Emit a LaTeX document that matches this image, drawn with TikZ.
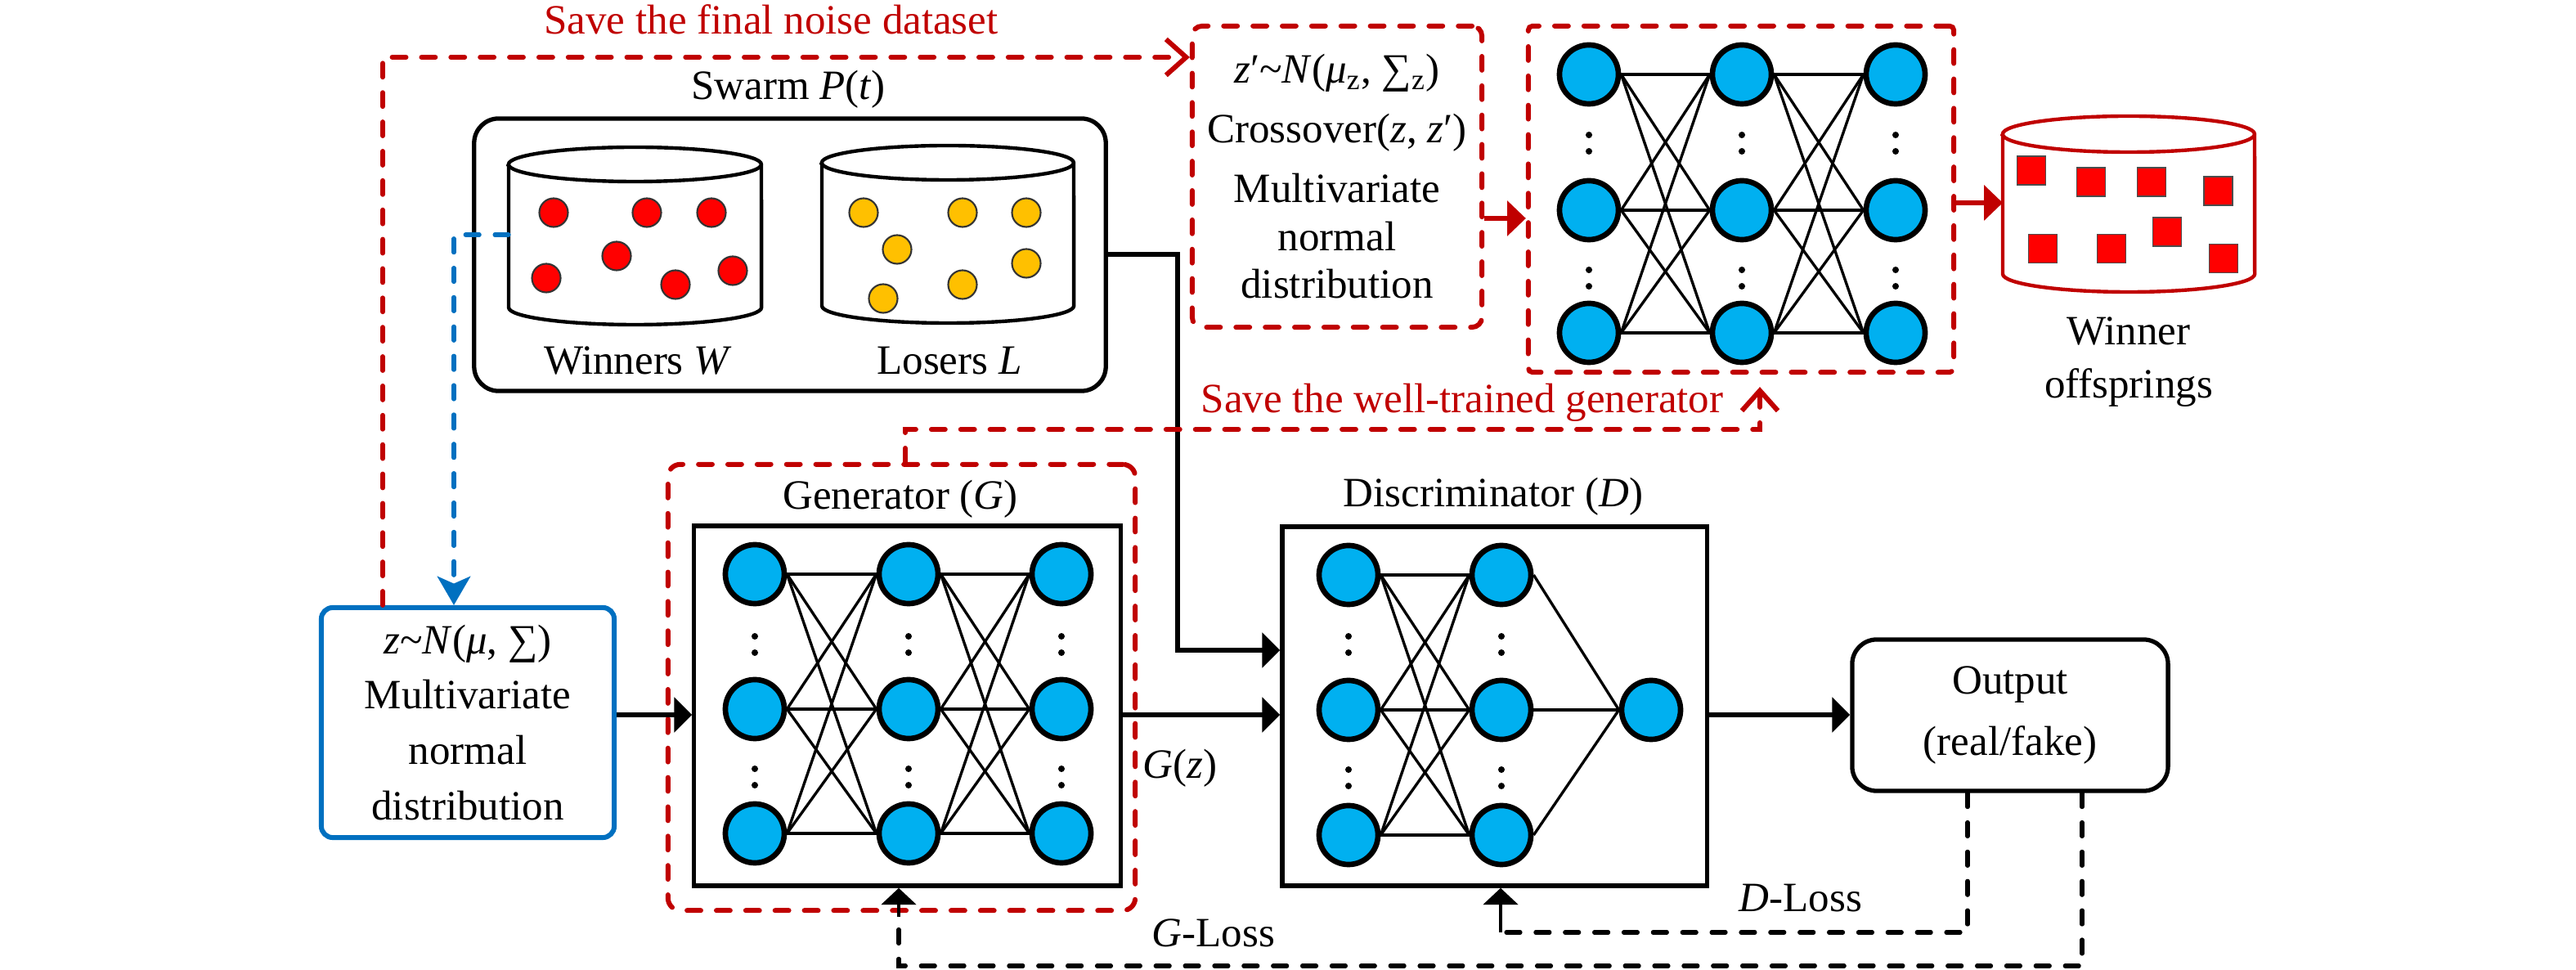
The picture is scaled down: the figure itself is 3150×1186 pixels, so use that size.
\documentclass[tikz,border=0pt]{standalone}
\usepackage{fontspec}
\setmainfont{Liberation Serif}
\usetikzlibrary{arrows.meta,calc}
\definecolor{dred}{RGB}{192,0,0}
\definecolor{bblue}{RGB}{0,112,192}
\definecolor{ncyan}{RGB}{0,176,240}
\definecolor{dotred}{RGB}{255,0,0}
\definecolor{dotyel}{RGB}{255,192,0}
\begin{document}
\begin{tikzpicture}[x=0.01cm,y=-0.01cm,
  every node/.style={font=\fontsize{14.5}{19.3}\selectfont, inner sep=0pt},
  box/.style={draw, line width=1.5pt, align=center},
  neuron/.style={circle, fill=ncyan, draw=black, line width=1.9pt, minimum size=0.72cm, inner sep=0pt},
  edge/.style={line width=0.95pt},
  hedge/.style={line width=1.15pt},
  reddash/.style={draw=dred, line width=1.7pt, line cap=round, dash pattern=on 4.8pt off 5.4pt},
  blackdash/.style={line width=1.5pt, line cap=round, dash pattern=on 4.8pt off 5.4pt},
  bluedash/.style={draw=bblue, line width=1.5pt, line cap=round, dash pattern=on 4.8pt off 5.4pt},
  tri/.style={-{Triangle[length=6.2pt,width=12pt]}},
  barb/.style={-{Straight Barb[length=7pt,width=12.5pt,line cap=butt]}},
  cyl/.style={line width=1.25pt, fill=white},
  rdot/.style={fill=dotred, draw=black!80, line width=0.6pt},
  ydot/.style={fill=dotyel, draw=black!80, line width=0.6pt},
  rsq/.style={fill=dotred, draw=black!70, line width=0.5pt},
  lbl/.style={anchor=base}
]
\useasboundingbox (0,0) rectangle (3150,1186);

% ---------------- Swarm -----------------
\node[box, rounded corners=0.3cm, minimum width=7.72cm, minimum height=3.33cm] (swarm) at (966,311.5) {};
\node[lbl] (swarmlab) at (964,122) {Swarm \textit{P}(\textit{t})};

% winners cylinder
\filldraw[cyl] (622,201) -- (622,376) arc[start angle=180,end angle=360,x radius=1.545cm,y radius=0.21cm]
  -- (931,201) arc[start angle=0,end angle=180,x radius=1.545cm,y radius=0.21cm] -- cycle;
\draw[line width=1.25pt] (931,201) arc[start angle=0,end angle=-180,x radius=1.545cm,y radius=0.21cm];
% losers cylinder
\filldraw[cyl] (1005,199) -- (1005,374) arc[start angle=180,end angle=360,x radius=1.54cm,y radius=0.21cm]
  -- (1313,199) arc[start angle=0,end angle=180,x radius=1.54cm,y radius=0.21cm] -- cycle;
\draw[line width=1.25pt] (1313,199) arc[start angle=0,end angle=-180,x radius=1.54cm,y radius=0.21cm];

\foreach \p in {(677,260),(791,260),(870,260),(754,313),(668,340),(826,348),(896,331)}
  \filldraw[rdot] \p circle[radius=0.175cm];
\foreach \p in {(1056,260),(1177,260),(1255,260),(1097,305),(1255,322),(1177,348),(1080,365)}
  \filldraw[ydot] \p circle[radius=0.175cm];

\node[lbl] (wlab) at (780,458) {Winners \textit{W}};
\node[lbl] (llab) at (1161,458) {Losers \textit{L}};

% ---------------- blue box -----------------
\node[box, draw=bblue, line width=1.7pt, rounded corners=0.14cm, minimum width=3.58cm, minimum height=2.81cm] (nd) at (572,883.5)
  {\textit{z}\textasciitilde\textit{N}(\textit{μ}, ∑)\\Multivariate\\normal\\distribution};

\coordinate (wl) at (622,287);
\coordinate (bx) at (555,287);
\draw[bluedash, -{Stealth[length=10pt,width=11.5pt,inset=2.5pt]}] (wl) -- (bx) -- (bx |- nd.north);

% ---------------- z' box -----------------
\node[reddash, rounded corners=0.12cm, minimum width=3.54cm, minimum height=3.68cm, align=center,
  font=\fontsize{14.5}{16.7}\selectfont] (zbox) at (1635,216)
  {\textit{z}′\textasciitilde\textit{N}(\textit{μ}\textsubscript{z}, ∑\textsubscript{z})\\[4pt]Crossover(\textit{z}, \textit{z}′)\\[4pt]Multivariate\\normal\\distribution};

\coordinate (rs) at (468,70);
\draw[reddash, barb] (rs |- nd.north) -- (rs) -- (rs -| zbox.west);
\node[lbl, text=dred] (savefinal) at (943,42) {Save the final noise dataset};

% ---------------- top NN -----------------
\node[reddash, rounded corners=0.05cm, minimum width=5.20cm, minimum height=4.23cm] (topnn) at (2129,243.5) {};
\foreach \c/\x in {1/1943,2/2130,3/2318}
  \foreach \r/\y in {1/91,2/257,3/407}
    \node[neuron] (t\c\r) at (\x,\y) {};
\foreach \a/\b in {1/2,2/3}{
  \foreach \i in {1,2,3}{
    \foreach \j in {1,2,3}{\draw[edge] (t\a\i.east) -- (t\b\j.west);}
    \draw[hedge] (t\a\i.east) -- (t\b\i.west);}}
\foreach \x in {1943,2130,2318}
  \foreach \y in {175,340}{
    \fill (\x,\y-10) circle[radius=0.04cm];
    \fill (\x,\y+10) circle[radius=0.04cm];}

\coordinate (a1) at (0,267);
\draw[dred, line width=1.7pt, -{Triangle[length=6.5pt,width=12pt]}] (zbox.east |- a1) -- (topnn.west |- a1);

% offspring cylinder
\filldraw[cyl, draw=dred] (2449,164) -- (2449,335) arc[start angle=180,end angle=360,x radius=1.54cm,y radius=0.22cm]
  -- (2757,164) arc[start angle=0,end angle=180,x radius=1.54cm,y radius=0.22cm] -- cycle;
\draw[line width=1.25pt, dred] (2757,164) arc[start angle=0,end angle=-180,x radius=1.54cm,y radius=0.22cm];
\foreach \p in {(2484,208.5),(2557,222.5),(2631,222.5),(2712.5,233.5),(2498,304),(2582,304),(2650,283.5),(2719,316)}
  \filldraw[rsq] \p ++(-17.5,-17.5) rectangle ++(35,35);
\coordinate (ocl) at (2449,248);
\draw[dred, line width=1.7pt, -{Triangle[length=6.5pt,width=12pt]}] (topnn.east |- ocl) -- (ocl);
\node[lbl] (win1) at (2603,422) {Winner};
\node[lbl] (win2) at (2603,487) {offsprings};

% ---------------- Generator -----------------
\node[reddash, rounded corners=0.15cm, minimum width=5.71cm, minimum height=5.45cm] (gend) at (1102.5,840.5) {};
\node[box, minimum width=5.21cm, minimum height=4.40cm] (gen) at (1109.5,863) {};
\node[lbl] (genlab) at (1101,623) {Generator (\textit{G})};
\foreach \c/\x in {1/923,2/1111,3/1298}
  \foreach \r/\y in {1/702,2/867,3/1019}
    \node[neuron] (g\c\r) at (\x,\y) {};
\foreach \a/\b in {1/2,2/3}{
  \foreach \i in {1,2,3}{
    \foreach \j in {1,2,3}{\draw[edge] (g\a\i.east) -- (g\b\j.west);}
    \draw[hedge] (g\a\i.east) -- (g\b\i.west);}}
\foreach \x in {923,1111,1298}
  \foreach \y in {788,950}{
    \fill (\x,\y-10) circle[radius=0.04cm];
    \fill (\x,\y+10) circle[radius=0.04cm];}

% ---------------- Discriminator -----------------
\node[box, minimum width=5.19cm, minimum height=4.39cm] (disc) at (1827.5,863.5) {};
\node[lbl] (disclab) at (1826,620) {Discriminator (\textit{D})};
\foreach \c/\x in {1/1649,2/1836}
  \foreach \r/\y in {1/703,2/868,3/1021}
    \node[neuron] (d\c\r) at (\x,\y) {};
\node[neuron] (do) at (2019,868) {};
\foreach \i in {1,2,3}{
  \foreach \j in {1,2,3}{\draw[edge] (d1\i.east) -- (d2\j.west);}
  \draw[hedge] (d1\i.east) -- (d2\i.west);
  \draw[edge] (d2\i.east) -- (do.west);}
\draw[hedge] (d22.east) -- (do.west);
\foreach \x in {1649,1836}
  \foreach \y in {788,951}{
    \fill (\x,\y-10) circle[radius=0.04cm];
    \fill (\x,\y+10) circle[radius=0.04cm];}

% ---------------- Output -----------------
\node[box, rounded corners=0.3cm, minimum width=3.86cm, minimum height=1.85cm] (out) at (2458,874.5) {Output\\[2pt](real/fake)};

% ---------------- main arrows -----------------
\coordinate (a3) at (0,874);
\draw[line width=1.5pt, tri] (nd.east |- a3) -- (gen.west |- a3);
\draw[line width=1.5pt, tri] (gen.east |- a3) -- (disc.west |- a3);
\draw[line width=1.5pt, tri] (disc.east |- a3) -- (out.west |- a3);
\node[lbl] (gz) at (1443,952) {\textit{G}(\textit{z})};

\coordinate (k1) at (1440,311);
\coordinate (k2) at (1440,795);
\draw[line width=1.5pt, tri] (swarm.east |- k1) -- (k1) -- (k2) -- (disc.west |- k2);

% save generator
\coordinate (r1) at (1107,525);
\coordinate (r2) at (2152,525);
\draw[reddash, barb, shorten >=0.15cm] (gend.north -| r1) -- (r1) -- (r2) -- (topnn.south -| r2);
\node[lbl, text=dred] (savegen) at (1788,505) {Save the well-trained generator};

% losses
\coordinate (dl1) at (2406,1140);
\coordinate (dl2) at (1835,1140);
\draw[blackdash] (out.south -| dl1) -- (dl1) -- (dl2);
\draw[line width=1.4pt, -{Triangle[length=5.8pt,width=12pt]}] (dl2) -- (disc.south -| dl2);
\node[lbl] (dloss) at (2202,1115) {\textit{D}-Loss};

\coordinate (gl1) at (2546,1181);
\coordinate (gl2) at (1099,1181);
\draw[blackdash] (out.south -| gl1) -- (gl1) -- (gl2) -- ++(0,-60);
\draw[line width=1.4pt, -{Triangle[length=5.8pt,width=12pt]}] (gl2) ++(0,-60) coordinate (gl3) (gl3) -- (gen.south -| gl3);
\node[lbl] (gloss) at (1484,1158) {\textit{G}-Loss};
\end{tikzpicture}
\end{document}
